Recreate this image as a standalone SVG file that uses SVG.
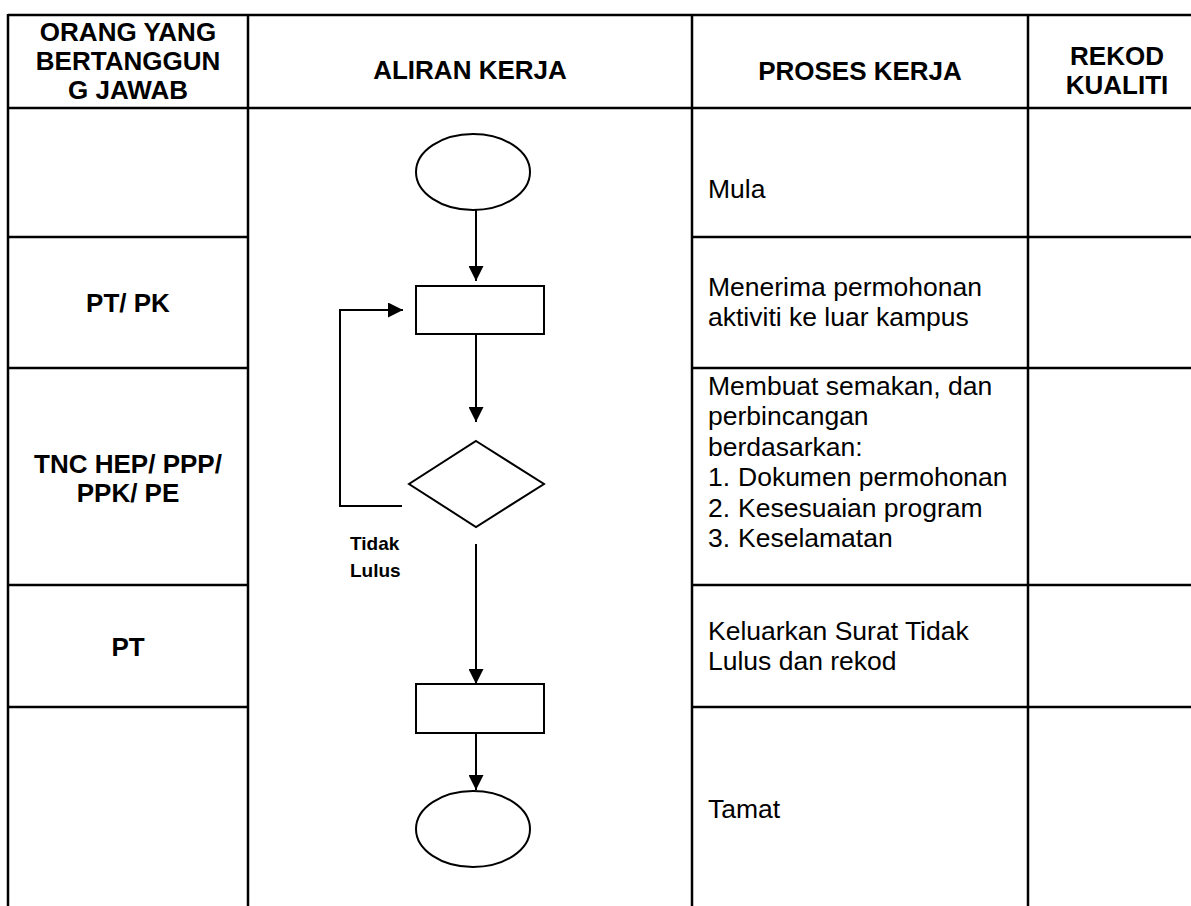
<svg xmlns="http://www.w3.org/2000/svg" width="1191" height="906" viewBox="0 0 1191 906">
<style>
.grid{stroke:#000;stroke-width:2.5;fill:none}
.shape{stroke:#000;stroke-width:2;fill:#fff}
.conn{stroke:#000;stroke-width:2;fill:none}
.h{font-family:"Liberation Sans",Arial,sans-serif;font-weight:bold;font-size:26px;fill:#000}
.t{font-family:"Liberation Sans",Arial,sans-serif;font-size:26.5px;fill:#000}
.lbl{font-family:"Liberation Sans",Arial,sans-serif;font-weight:bold;font-size:19px;fill:#000}
</style>
<defs>
<marker id="ah" viewBox="0 0 15 15" refX="15" refY="7.5" markerWidth="15" markerHeight="15" markerUnits="userSpaceOnUse" orient="auto">
<path d="M0,0 L15,7.5 L0,15 z" fill="#000"/>
</marker>
</defs>
<rect width="1191" height="906" fill="#fff"/>
<g id="table">
<line class="grid" x1="8" y1="15" x2="1191" y2="15"/>
<line class="grid" x1="8" y1="108" x2="1191" y2="108"/>
<line class="grid" x1="8" y1="14" x2="8" y2="906"/>
<line class="grid" x1="248" y1="14" x2="248" y2="906"/>
<line class="grid" x1="692" y1="14" x2="692" y2="906"/>
<line class="grid" x1="1028" y1="14" x2="1028" y2="906"/>
<line class="grid" x1="8" y1="237" x2="248" y2="237"/>
<line class="grid" x1="8" y1="368" x2="248" y2="368"/>
<line class="grid" x1="8" y1="585" x2="248" y2="585"/>
<line class="grid" x1="8" y1="707" x2="248" y2="707"/>
<line class="grid" x1="692" y1="237" x2="1191" y2="237"/>
<line class="grid" x1="692" y1="368" x2="1191" y2="368"/>
<line class="grid" x1="692" y1="585" x2="1191" y2="585"/>
<line class="grid" x1="692" y1="707" x2="1191" y2="707"/>
</g>
<g id="headers">
<text class="h" text-anchor="middle" x="128" y="41">ORANG YANG</text>
<text class="h" text-anchor="middle" x="128" y="70">BERTANGGUN</text>
<text class="h" text-anchor="middle" x="128" y="99">G JAWAB</text>
<text class="h" text-anchor="middle" x="470" y="79">ALIRAN KERJA</text>
<text class="h" text-anchor="middle" x="860" y="80">PROSES KERJA</text>
<text class="h" text-anchor="middle" x="1117" y="65">REKOD</text>
<text class="h" text-anchor="middle" x="1117" y="94">KUALITI</text>
</g>
<g id="roles">
<text class="h" text-anchor="middle" x="128" y="312">PT/ PK</text>
<text class="h" text-anchor="middle" x="128" y="473">TNC HEP/ PPP/</text>
<text class="h" text-anchor="middle" x="128" y="502">PPK/ PE</text>
<text class="h" text-anchor="middle" x="128" y="656">PT</text>
</g>
<g id="process-text">
<text class="t" x="708" y="198">Mula</text>
<text class="t" x="708" y="296">Menerima permohonan</text>
<text class="t" x="708" y="326">aktiviti ke luar kampus</text>
<text class="t" x="708" y="395">Membuat semakan, dan</text>
<text class="t" x="708" y="425">perbincangan</text>
<text class="t" x="708" y="456">berdasarkan:</text>
<text class="t" x="708" y="486">1.</text><text class="t" x="738" y="486">Dokumen permohonan</text>
<text class="t" x="708" y="517">2.</text><text class="t" x="738" y="517">Kesesuaian program</text>
<text class="t" x="708" y="547">3.</text><text class="t" x="738" y="547">Keselamatan</text>
<text class="t" x="708" y="640">Keluarkan Surat Tidak</text>
<text class="t" x="708" y="670">Lulus dan rekod</text>
<text class="t" x="708" y="818">Tamat</text>
</g>
<g id="connectors">
<line class="conn" x1="476" y1="210" x2="476" y2="281" marker-end="url(#ah)"/>
<line class="conn" x1="476" y1="334" x2="476" y2="422" marker-end="url(#ah)"/>
<path class="conn" d="M402,506 H340 V310 H403" marker-end="url(#ah)"/>
<line class="conn" x1="476" y1="544" x2="476" y2="684" marker-end="url(#ah)"/>
<line class="conn" x1="476" y1="733" x2="476" y2="790" marker-end="url(#ah)"/>
</g>
<g id="start"><ellipse class="shape" cx="473" cy="172" rx="57" ry="38"/></g>
<g id="receive"><rect class="shape" x="416" y="286" width="128" height="48"/></g>
<g id="decision"><polygon class="shape" points="476,441 544,484 476,527 409,484"/></g>
<g id="issue"><rect class="shape" x="416" y="684" width="128" height="49"/></g>
<g id="end"><ellipse class="shape" cx="473" cy="829" rx="57" ry="38"/></g>
<g id="label-tidak-lulus">
<text class="lbl" x="350" y="550">Tidak</text>
<text class="lbl" x="350" y="577">Lulus</text>
</g>
</svg>
